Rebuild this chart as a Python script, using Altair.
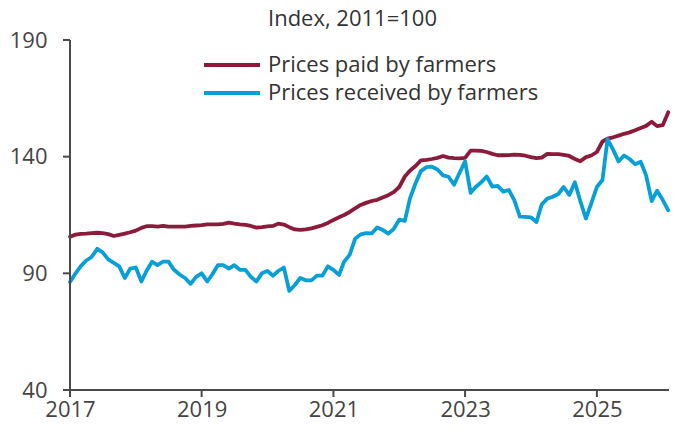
import altair as alt
import pandas as pd

FONT = "Open Sans"
AXIS_COLOR = "#4a4a4a"

series_names = ["Prices paid by farmers", "Prices received by farmers"]
series_colors = ["#8B1A3B", "#07A0D6"]

start_month = "2017-01-01"
n_months = 110

paid = [
    105.7, 106.6, 106.9, 107.0, 107.2, 107.4, 107.2, 106.8, 106.0, 106.5, 107.0, 107.6,  # 2017
    108.3, 109.5, 110.2, 110.2, 110.0, 110.3, 110.0, 110.0, 110.0, 110.0, 110.3, 110.5,  # 2018
    110.7, 111.0, 111.0, 111.0, 111.2, 111.7, 111.3, 111.0, 110.8, 110.3, 109.6, 109.8,  # 2019
    110.1, 110.3, 111.3, 110.9, 109.8, 108.8, 108.6, 108.8, 109.3, 109.9, 110.6, 111.6,  # 2020
    112.9, 114.0, 115.0, 116.3, 117.8, 119.3, 120.2, 121.0, 121.5, 122.5, 123.5, 124.8,  # 2021
    127.0, 131.5, 134.0, 136.0, 138.4, 138.6, 139.0, 139.5, 140.3, 139.6, 139.4, 139.3,  # 2022
    139.5, 142.6, 142.6, 142.5, 142.0, 141.2, 140.6, 140.6, 140.7, 140.9, 140.8, 140.4,  # 2023
    139.8, 139.4, 139.6, 141.2, 141.1, 141.1, 140.8, 140.3, 139.0, 138.0, 139.8, 140.5,  # 2024
    142.0, 146.5, 147.7, 148.3, 149.0, 149.8, 150.4, 151.3, 152.3, 153.2, 155.0, 153.1,  # 2025
    153.5, 159.0,                                                                        # 2026
]

received = [
    86.3, 90.0, 93.0, 95.5, 97.0, 100.5, 99.0, 96.0, 94.5, 93.0, 88.0, 92.0,            # 2017
    92.5, 86.5, 91.0, 95.0, 93.5, 95.0, 95.0, 91.5, 89.5, 88.0, 85.5, 88.5,             # 2018
    90.0, 86.5, 89.5, 93.5, 93.5, 92.0, 93.5, 91.5, 91.5, 88.5, 86.5, 90.0,             # 2019
    91.0, 89.0, 91.0, 92.5, 82.5, 85.0, 88.0, 87.0, 87.0, 89.0, 89.0, 93.0,             # 2020
    91.5, 89.3, 95.0, 97.9, 104.8, 106.7, 107.2, 107.1, 109.7, 108.6, 107.0, 109.0,     # 2021
    113.0, 112.5, 122.0, 128.5, 133.8, 135.5, 135.7, 134.5, 132.0, 131.4, 128.0, 133.0, # 2022
    138.0, 124.5, 127.0, 129.0, 131.5, 127.2, 127.5, 125.0, 125.7, 121.4, 114.3, 114.2, # 2023
    114.0, 112.0, 119.5, 122.0, 122.8, 124.0, 127.0, 123.6, 129.0, 121.0, 113.5, 120.0, # 2024
    127.0, 130.0, 147.5, 143.0, 138.0, 140.5, 139.0, 136.8, 137.8, 132.0, 121.0, 125.4, # 2025
    121.5, 117.0,                                                                        # 2026
]

y_ticks = [40, 90, 140, 190]
x_tick_years = [2017, 2019, 2021, 2023, 2025]
x_domain = ["2017-01-01", "2026-02-05"]
title_text = "Index, 2011=100"

months = list(pd.date_range(start_month, periods=n_months, freq="MS").strftime("%Y-%m-%d"))
df = pd.DataFrame({
    "date": months + months,
    "value": paid + received,
    "series": [series_names[0]] * n_months + [series_names[1]] * n_months,
})

x_scale = alt.Scale(domain=[alt.DateTime(year=2017, month=1, date=1),
                            alt.DateTime(year=2026, month=2, date=5)])
y_scale = alt.Scale(domain=[y_ticks[0], y_ticks[-1]], nice=False, zero=False)
x0 = alt.DateTime(year=2017, month=1, date=1)

axis_common = dict(
    domain=False, ticks=False,
    labelFont=FONT, labelFontSize=22, labelColor="#444444", grid=False, title=None,
)

lines = alt.Chart(df).mark_line(strokeWidth=3.8, strokeJoin="round", strokeCap="round").encode(
    x=alt.X(
        "date:T", scale=x_scale,
        axis=alt.Axis(values=[alt.DateTime(year=y, month=1, date=1) for y in x_tick_years],
                      format="%Y", labelPadding=9, labelFlush=False, **axis_common),
    ),
    y=alt.Y(
        "value:Q", scale=y_scale,
        axis=alt.Axis(values=y_ticks, labelPadding=23, minExtent=62, maxExtent=62, **axis_common),
    ),
    color=alt.Color(
        "series:N",
        scale=alt.Scale(domain=series_names, range=series_colors),
        legend=alt.Legend(
            orient="none", legendX=132, legendY=11, title=None,
            symbolType="stroke", symbolSize=3136, symbolStrokeWidth=4,
            labelFont=FONT, labelFontSize=22, labelColor="#333333", labelLimit=500,
            labelOffset=6, clipHeight=28, rowPadding=0,
        ),
    ),
)

# axis domain lines (drawn as paths)
x_domain_line = alt.Chart(pd.DataFrame({"date": x_domain})).mark_line(
    color=AXIS_COLOR, strokeWidth=2).encode(x=alt.X("date:T", scale=x_scale), y=alt.datum(y_ticks[0]))
y_domain_line = alt.Chart(pd.DataFrame({"value": [y_ticks[0], y_ticks[-1]]})).mark_line(
    color=AXIS_COLOR, strokeWidth=2).encode(x=alt.datum(x0), y=alt.Y("value:Q", scale=y_scale))

# tick marks
x_tick_df = pd.DataFrame({"date": [f"{y}-01-01" for y in x_tick_years]})
x_ticks = alt.Chart(x_tick_df).mark_tick(
    orient="vertical", size=7, thickness=2, color=AXIS_COLOR, yOffset=3.5, opacity=1
).encode(x=alt.X("date:T", scale=x_scale), y=alt.datum(y_ticks[0]))
y_tick_marks = alt.Chart(pd.DataFrame({"value": y_ticks})).mark_tick(
    orient="horizontal", size=7, thickness=2, color=AXIS_COLOR, xOffset=-3.5, opacity=1
).encode(x=alt.datum(x0), y=alt.Y("value:Q", scale=y_scale))

chart = alt.layer(lines, x_domain_line, y_domain_line, x_ticks, y_tick_marks).properties(
    width=665,
    height=412,
    autosize=alt.AutoSizeParams(type="fit", contains="padding"),
    padding={"left": 0, "top": 0, "right": 0, "bottom": 0},
    title=alt.Title(title_text, font=FONT, fontSize=22, fontWeight="normal", color="#333333",
                    anchor="start", dx=260, offset=-2),
).configure_view(stroke=None)

chart.save("out.html", embed_options={"renderer": "svg", "actions": False})
